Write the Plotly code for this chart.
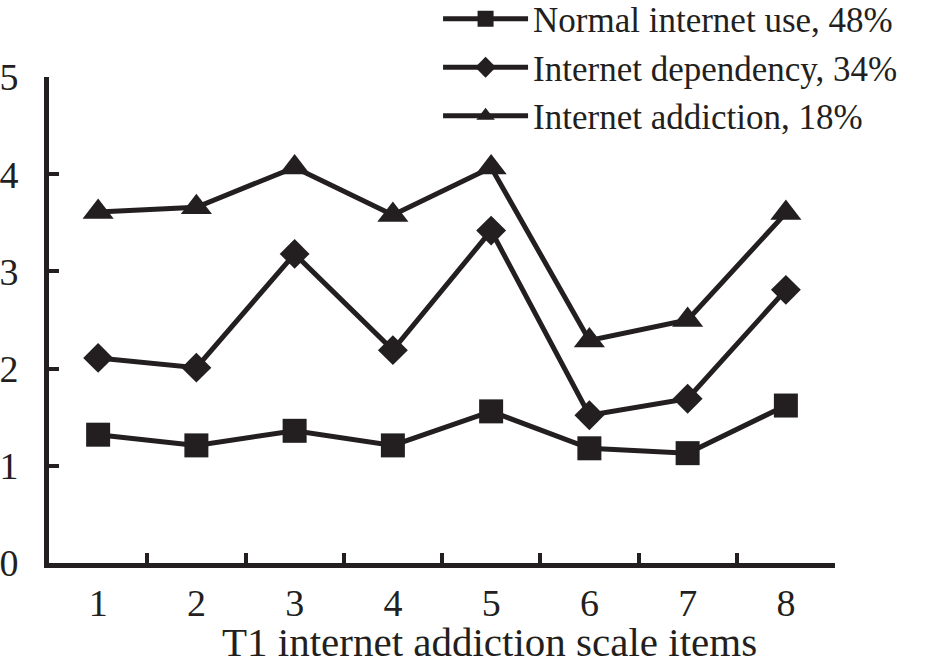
import plotly.graph_objects as go

# T1 internet addiction scale items
items = ['1', '2', '3', '4', '5', '6', '7', '8']

normal_use = [1.32, 1.21, 1.36, 1.21, 1.56, 1.18, 1.13, 1.62]
dependency = [2.11, 2.01, 3.18, 2.19, 3.42, 1.52, 1.69, 2.81]
addiction = [3.61, 3.66, 4.07, 3.58, 4.07, 2.29, 2.50, 3.60]

names = ['Normal internet use, 48%', 'Internet dependency, 34%', 'Internet addiction, 18%']

ink = '#231f20'
font = 'Liberation Serif'

fig = go.Figure()

fig.add_trace(go.Scatter(
    x=items, y=normal_use, name=names[0], mode='lines+markers',
    line=dict(color=ink, width=5),
    marker=dict(symbol='square', size=24, color=ink)
))
fig.add_trace(go.Scatter(
    x=items, y=dependency, name=names[1], mode='lines+markers',
    line=dict(color=ink, width=5),
    marker=dict(symbol='diamond', size=23, color=ink)
))
fig.add_trace(go.Scatter(
    x=items, y=addiction, name=names[2], mode='lines+markers',
    line=dict(color=ink, width=5),
    marker=dict(symbol='triangle-up', size=27, color=ink)
))

fig.update_xaxes(
    type='category',
    range=[-0.5, 7.5],
    tickson='boundaries',
    ticks='inside', ticklen=10, tickwidth=4, tickcolor=ink,
    showline=True, linewidth=5, linecolor=ink,
    showgrid=False, zeroline=False, automargin=False,
    ticklabelstandoff=2,
    tickfont=dict(family=font, size=38, color=ink)
)

fig.update_yaxes(
    range=[0, 5],
    tickvals=[0, 1, 2, 3, 4, 5],
    ticks='inside', ticklen=10, tickwidth=4, tickcolor=ink,
    showline=True, linewidth=5, linecolor=ink,
    showgrid=False, zeroline=False, automargin=False,
    ticklabelstandoff=18,
    tickfont=dict(family=font, size=38, color=ink)
)

fig.add_annotation(
    text='T1 internet addiction scale items',
    xref='paper', yref='paper', x=0.56, y=-0.162,
    xanchor='center', yanchor='middle', showarrow=False,
    font=dict(family=font, size=41, color=ink)
)

fig.update_layout(
    width=926, height=663,
    margin=dict(l=49, r=91, t=77, b=100, autoexpand=False),
    paper_bgcolor='white', plot_bgcolor='white',
    showlegend=True,
    legend=dict(
        x=0.495, y=1.18, xanchor='left', yanchor='top',
        font=dict(family=font, size=35, color=ink),
        bgcolor='rgba(0,0,0,0)', tracegroupgap=0, itemwidth=85
    )
)

# no page margin, so the figure sits at the window's corner
fig.write_html('out.html', config={'displayModeBar': False},
               post_script="document.body.style.margin='0';")
